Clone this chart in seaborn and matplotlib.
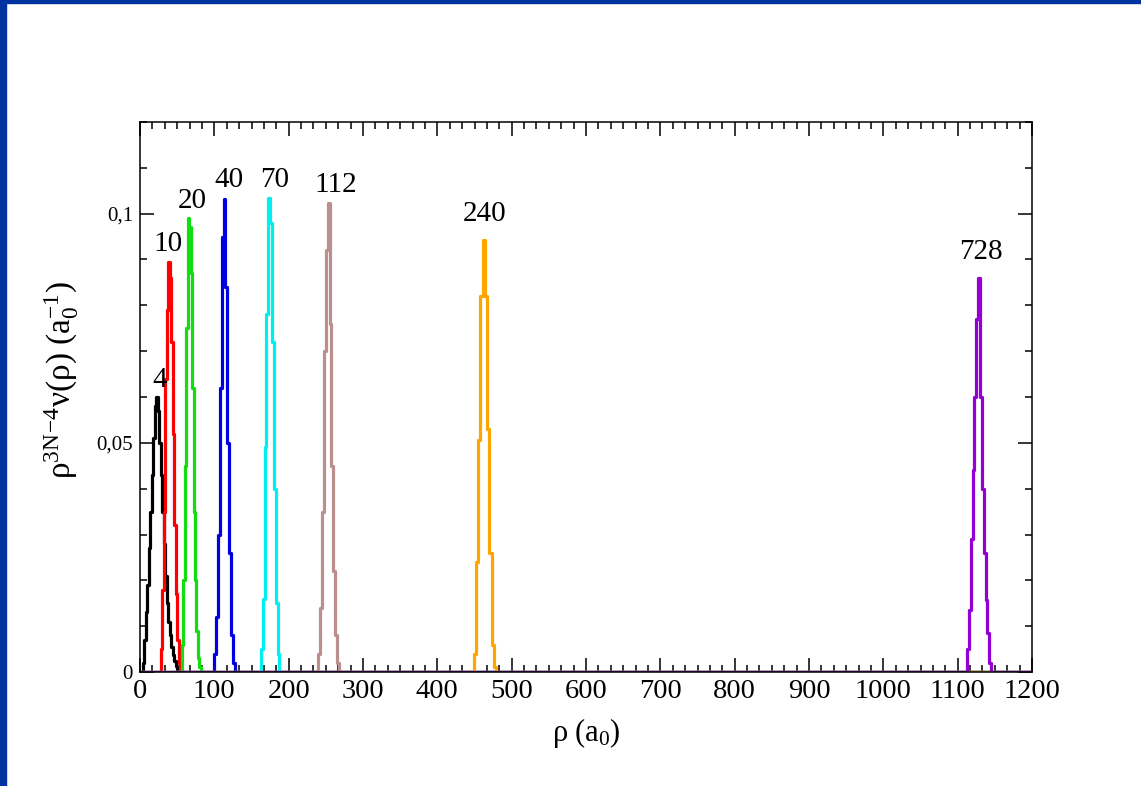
import numpy as np
import pandas as pd
import matplotlib
matplotlib.use("Agg")
import matplotlib.pyplot as plt
from matplotlib.ticker import AutoMinorLocator, MultipleLocator, FixedLocator
from matplotlib.patches import Rectangle
import seaborn as sns

# ---- data (histogram left edges in a0, heights in a0^-1) ----
rho_N4 = [2, 4, 6, 8, 10, 12, 14, 16, 18, 20, 22, 24, 26, 28, 30, 32, 34, 36, 38, 40, 42, 44, 46, 48, 50, 52]
nu_N4 = [0.0, 0.002, 0.007, 0.013, 0.019, 0.027, 0.035, 0.043, 0.051, 0.058, 0.060, 0.057, 0.050, 0.043,
         0.035, 0.028, 0.021, 0.015, 0.011, 0.008, 0.0055, 0.0037, 0.0023, 0.0013, 0.0006, 0.0]

rho_N10 = [26, 28, 30, 32, 34, 36, 38, 40, 42, 44, 46, 48, 50, 52, 54]
nu_N10 = [0.0, 0.005, 0.018, 0.035, 0.064, 0.079, 0.0895, 0.086, 0.072, 0.052, 0.032, 0.017, 0.007, 0.002, 0.0]

rho_N20 = [54, 56, 58, 60, 62, 64, 66, 68, 70, 72, 74, 76, 78, 80, 82]
nu_N20 = [0.0, 0.006, 0.020, 0.045, 0.075, 0.099, 0.097, 0.087, 0.062, 0.035, 0.020, 0.009, 0.003, 0.001, 0.0]

rho_N40 = [97.5, 100, 102.5, 105, 107.5, 110, 112.5, 115, 117.5, 120, 122.5, 125, 127.5]
nu_N40 = [0.0, 0.004, 0.012, 0.030, 0.062, 0.095, 0.1033, 0.084, 0.050, 0.026, 0.008, 0.002, 0.0]

rho_N70 = [160, 162.5, 165, 167.5, 170, 172.5, 175, 177.5, 180, 182.5, 185, 187.5]
nu_N70 = [0.0, 0.005, 0.016, 0.049, 0.078, 0.1035, 0.098, 0.072, 0.040, 0.015, 0.004, 0.0]

rho_N112 = [237.5, 240, 242.5, 245, 247.5, 250, 252.5, 255, 257.5, 260, 262.5, 265, 267.5]
nu_N112 = [0.0, 0.004, 0.014, 0.035, 0.070, 0.092, 0.1024, 0.076, 0.045, 0.022, 0.008, 0.002, 0.0]

rho_N240 = [446, 449, 452, 455, 458, 461, 464, 467, 470, 473, 476, 479]
nu_N240 = [0.0, 0.004, 0.024, 0.0507, 0.082, 0.0943, 0.082, 0.053, 0.026, 0.006, 0.001, 0.0]

rho_N728 = [1110, 1112.5, 1115, 1117.5, 1120, 1122.5, 1125, 1127.5, 1130, 1132.5, 1135, 1137.5, 1140, 1142.5, 1145]
nu_N728 = [0.0, 0.005, 0.0135, 0.029, 0.044, 0.060, 0.077, 0.086, 0.060, 0.040, 0.026, 0.0157, 0.0085, 0.002, 0.0]

N_values = [4, 10, 20, 40, 70, 112, 240, 728]
rho_sets = [rho_N4, rho_N10, rho_N20, rho_N40, rho_N70, rho_N112, rho_N240, rho_N728]
nu_sets = [nu_N4, nu_N10, nu_N20, nu_N40, nu_N70, nu_N112, nu_N240, nu_N728]
bin_widths = [2, 2, 2, 2.5, 2.5, 2.5, 3, 2.5]

x_ticks = [0, 100, 200, 300, 400, 500, 600, 700, 800, 900, 1000, 1100, 1200]
x_ticklabels = ["0", "100", "200", "300", "400", "500", "600", "700", "800", "900", "1000", "1100", "1200"]
y_ticks = [0, 0.05, 0.1]
y_ticklabels = ["0", "0,05", "0,1"]

# ---- styles ----
colors = ["#000000", "#ff0000", "#11dd11", "#0000e0", "#00f0f0", "#bc8f8f", "#ffa500", "#9400d3"]
label_offsets = [(3, 4), (-1, 5), (4, 4), (4, 6), (5, 5), (7, 5), (1, 13), (2, 13)]  # pixels

# ---- build long table ----
rows = []
for N, xs, ys in zip(N_values, rho_sets, nu_sets):
    xx = [0.0] + list(xs) + [1200.0]
    yy = [0.0] + list(ys) + [0.0]
    for a, b in zip(xx, yy):
        rows.append({"rho": a, "nu": b, "N": str(N)})
df = pd.DataFrame(rows)

sns.set_style("ticks")
plt.rcParams["font.family"] = ["Liberation Serif", "DejaVu Serif"]
plt.rcParams["mathtext.fontset"] = "custom"
plt.rcParams["mathtext.rm"] = "Liberation Serif"
plt.rcParams["mathtext.it"] = "Liberation Serif:italic"
plt.rcParams["mathtext.bf"] = "Liberation Serif:bold"
plt.rcParams["text.color"] = "black"
plt.rcParams["axes.labelcolor"] = "black"
plt.rcParams["xtick.color"] = "black"
plt.rcParams["ytick.color"] = "black"

fig = plt.figure(figsize=(11.41, 7.86), dpi=100)
ax = fig.add_axes([140 / 1141, 1 - 672 / 786, (1032 - 140) / 1141, (672 - 122) / 786])

sns.lineplot(data=df, x="rho", y="nu", hue="N", hue_order=[str(n) for n in N_values],
             palette=colors, drawstyle="steps-post", estimator=None, sort=True,
             linewidth=2.3, legend=False, ax=ax)

for N, xs, ys, w, (dx, dy) in zip(N_values, rho_sets, nu_sets, bin_widths, label_offsets):
    i = int(np.argmax(ys))
    ax.annotate(str(N), xy=(xs[i] + w / 2, ys[i]), xytext=(dx, dy), textcoords="offset pixels",
                ha="center", va="bottom", fontsize=21, color="black")

ax.set_xlim(0, 1200)
ax.set_ylim(0, 0.12)
ax.xaxis.set_major_locator(FixedLocator(x_ticks))
ax.set_xticklabels(x_ticklabels)
ax.xaxis.set_minor_locator(AutoMinorLocator(6))
ax.yaxis.set_major_locator(FixedLocator(y_ticks))
ax.set_yticklabels(y_ticklabels)
ax.yaxis.set_minor_locator(MultipleLocator(0.01))

ax.tick_params(which="both", direction="in", top=True, right=True, width=1.1, color="black",
               labelcolor="black")
ax.tick_params(which="major", length=10)
ax.tick_params(which="minor", length=5)
ax.tick_params(axis="x", which="major", labelsize=20.5, pad=5)
ax.tick_params(axis="y", which="major", labelsize=15, pad=5)
for s in ax.spines.values():
    s.set_linewidth(1.1)
    s.set_color("black")

ax.set_xlabel(r"$\mathrm{ρ\ (a_0)}$", fontsize=22, labelpad=9)
ax.set_ylabel(r"$\mathrm{ρ^{3N\!-\!4}ν(ρ)\ (a_0^{-1})}$", fontsize=24, labelpad=6)
ax.yaxis.set_label_coords(-0.066, 0.53)

fig.patches.append(Rectangle((0, 0), 6 / 1141, 1, transform=fig.transFigure, color="#0033a0", zorder=10))
fig.patches.append(Rectangle((0, 1 - 3 / 786), 1, 3 / 786, transform=fig.transFigure, color="#0033a0", zorder=10))

fig.savefig("out.png", dpi=100)
